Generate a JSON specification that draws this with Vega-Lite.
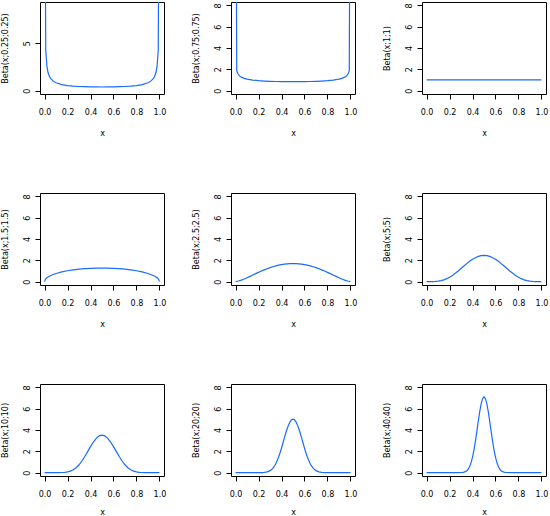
{
  "$schema": "https://vega.github.io/schema/vega-lite/v6.json",
  "background": "#ffffff",
  "padding": {"left": 0, "top": 1, "right": 0, "bottom": 0},
  "datasets": {
    "p1": [
      {"x": 0, "y": 30}, {"x": 0.01, "y": 4.296}, {"x": 0.02, "y": 2.574}, {"x": 0.03, "y": 1.913},
      {"x": 0.04, "y": 1.555}, {"x": 0.05, "y": 1.325}, {"x": 0.075, "y": 0.998}, {"x": 0.1, "y": 0.821},
      {"x": 0.15, "y": 0.632}, {"x": 0.2, "y": 0.533}, {"x": 0.25, "y": 0.473}, {"x": 0.3, "y": 0.435},
      {"x": 0.35, "y": 0.409}, {"x": 0.4, "y": 0.393}, {"x": 0.45, "y": 0.384}, {"x": 0.5, "y": 0.381},
      {"x": 0.55, "y": 0.384}, {"x": 0.6, "y": 0.393}, {"x": 0.65, "y": 0.409}, {"x": 0.7, "y": 0.435},
      {"x": 0.75, "y": 0.473}, {"x": 0.8, "y": 0.533}, {"x": 0.85, "y": 0.632}, {"x": 0.9, "y": 0.821},
      {"x": 0.925, "y": 0.998}, {"x": 0.95, "y": 1.325}, {"x": 0.96, "y": 1.555}, {"x": 0.97, "y": 1.913},
      {"x": 0.98, "y": 2.574}, {"x": 0.99, "y": 4.296}, {"x": 1, "y": 30}
    ],
    "p2": [
      {"x": 0, "y": 30}, {"x": 0.01, "y": 1.871}, {"x": 0.02, "y": 1.577}, {"x": 0.03, "y": 1.429},
      {"x": 0.04, "y": 1.333}, {"x": 0.05, "y": 1.264}, {"x": 0.075, "y": 1.15}, {"x": 0.1, "y": 1.078},
      {"x": 0.15, "y": 0.988}, {"x": 0.2, "y": 0.933}, {"x": 0.25, "y": 0.897}, {"x": 0.3, "y": 0.872},
      {"x": 0.35, "y": 0.855}, {"x": 0.4, "y": 0.843}, {"x": 0.45, "y": 0.837}, {"x": 0.5, "y": 0.835},
      {"x": 0.55, "y": 0.837}, {"x": 0.6, "y": 0.843}, {"x": 0.65, "y": 0.855}, {"x": 0.7, "y": 0.872},
      {"x": 0.75, "y": 0.897}, {"x": 0.8, "y": 0.933}, {"x": 0.85, "y": 0.988}, {"x": 0.9, "y": 1.078},
      {"x": 0.925, "y": 1.15}, {"x": 0.95, "y": 1.264}, {"x": 0.96, "y": 1.333}, {"x": 0.97, "y": 1.429},
      {"x": 0.98, "y": 1.577}, {"x": 0.99, "y": 1.871}, {"x": 1, "y": 30}
    ],
    "p3": [
      {"x": 0, "y": 1}, {"x": 1, "y": 1}
    ],
    "p4": [
      {"x": 0, "y": 0}, {"x": 0.005, "y": 0.18}, {"x": 0.01, "y": 0.253}, {"x": 0.02, "y": 0.357},
      {"x": 0.03, "y": 0.434}, {"x": 0.04, "y": 0.499}, {"x": 0.05, "y": 0.555}, {"x": 0.075, "y": 0.671},
      {"x": 0.1, "y": 0.764}, {"x": 0.15, "y": 0.909}, {"x": 0.2, "y": 1.019}, {"x": 0.25, "y": 1.103},
      {"x": 0.3, "y": 1.167}, {"x": 0.35, "y": 1.215}, {"x": 0.4, "y": 1.248}, {"x": 0.45, "y": 1.267},
      {"x": 0.5, "y": 1.273}, {"x": 0.55, "y": 1.267}, {"x": 0.6, "y": 1.248}, {"x": 0.65, "y": 1.215},
      {"x": 0.7, "y": 1.167}, {"x": 0.75, "y": 1.103}, {"x": 0.8, "y": 1.019}, {"x": 0.85, "y": 0.909},
      {"x": 0.9, "y": 0.764}, {"x": 0.925, "y": 0.671}, {"x": 0.95, "y": 0.555}, {"x": 0.96, "y": 0.499},
      {"x": 0.97, "y": 0.434}, {"x": 0.98, "y": 0.357}, {"x": 0.99, "y": 0.253}, {"x": 0.995, "y": 0.18},
      {"x": 1, "y": 0}
    ],
    "p5": [
      {"x": 0, "y": 0}, {"x": 0.025, "y": 0.052}, {"x": 0.05, "y": 0.141}, {"x": 0.075, "y": 0.248},
      {"x": 0.1, "y": 0.367}, {"x": 0.125, "y": 0.491}, {"x": 0.15, "y": 0.618}, {"x": 0.175, "y": 0.745},
      {"x": 0.2, "y": 0.869}, {"x": 0.225, "y": 0.989}, {"x": 0.25, "y": 1.103}, {"x": 0.275, "y": 1.209},
      {"x": 0.3, "y": 1.307}, {"x": 0.325, "y": 1.396}, {"x": 0.35, "y": 1.474}, {"x": 0.375, "y": 1.541},
      {"x": 0.4, "y": 1.597}, {"x": 0.425, "y": 1.641}, {"x": 0.45, "y": 1.672}, {"x": 0.475, "y": 1.691},
      {"x": 0.5, "y": 1.698}, {"x": 0.525, "y": 1.691}, {"x": 0.55, "y": 1.672}, {"x": 0.575, "y": 1.641},
      {"x": 0.6, "y": 1.597}, {"x": 0.625, "y": 1.541}, {"x": 0.65, "y": 1.474}, {"x": 0.675, "y": 1.396},
      {"x": 0.7, "y": 1.307}, {"x": 0.725, "y": 1.209}, {"x": 0.75, "y": 1.103}, {"x": 0.775, "y": 0.989},
      {"x": 0.8, "y": 0.869}, {"x": 0.825, "y": 0.745}, {"x": 0.85, "y": 0.618}, {"x": 0.875, "y": 0.491},
      {"x": 0.9, "y": 0.367}, {"x": 0.925, "y": 0.248}, {"x": 0.95, "y": 0.141}, {"x": 0.975, "y": 0.052},
      {"x": 1, "y": 0}
    ],
    "p6": [
      {"x": 0, "y": 0}, {"x": 0.025, "y": 0.0002}, {"x": 0.05, "y": 0.0032}, {"x": 0.075, "y": 0.0146},
      {"x": 0.1, "y": 0.0413}, {"x": 0.125, "y": 0.0902}, {"x": 0.15, "y": 0.1665}, {"x": 0.175, "y": 0.2737},
      {"x": 0.2, "y": 0.4129}, {"x": 0.225, "y": 0.5825}, {"x": 0.25, "y": 0.7787}, {"x": 0.275, "y": 0.9954},
      {"x": 0.3, "y": 1.2252}, {"x": 0.325, "y": 1.4591}, {"x": 0.35, "y": 1.6876}, {"x": 0.375, "y": 1.901},
      {"x": 0.4, "y": 2.0902}, {"x": 0.425, "y": 2.2468}, {"x": 0.45, "y": 2.364}, {"x": 0.475, "y": 2.4364},
      {"x": 0.5, "y": 2.4609}, {"x": 0.525, "y": 2.4364}, {"x": 0.55, "y": 2.364}, {"x": 0.575, "y": 2.2468},
      {"x": 0.6, "y": 2.0902}, {"x": 0.625, "y": 1.901}, {"x": 0.65, "y": 1.6876}, {"x": 0.675, "y": 1.4591},
      {"x": 0.7, "y": 1.2252}, {"x": 0.725, "y": 0.9954}, {"x": 0.75, "y": 0.7787}, {"x": 0.775, "y": 0.5825},
      {"x": 0.8, "y": 0.4129}, {"x": 0.825, "y": 0.2737}, {"x": 0.85, "y": 0.1665}, {"x": 0.875, "y": 0.0902},
      {"x": 0.9, "y": 0.0413}, {"x": 0.925, "y": 0.0146}, {"x": 0.95, "y": 0.0032}, {"x": 0.975, "y": 0.0002},
      {"x": 1, "y": 0}
    ],
    "p7": [
      {"x": 0, "y": 0}, {"x": 0.025, "y": 0}, {"x": 0.05, "y": 0}, {"x": 0.075, "y": 0.00003},
      {"x": 0.1, "y": 0.0004}, {"x": 0.125, "y": 0.0021}, {"x": 0.15, "y": 0.0082}, {"x": 0.175, "y": 0.0252},
      {"x": 0.2, "y": 0.0635}, {"x": 0.225, "y": 0.1377}, {"x": 0.25, "y": 0.2646}, {"x": 0.275, "y": 0.4598},
      {"x": 0.3, "y": 0.7337}, {"x": 0.325, "y": 1.087}, {"x": 0.35, "y": 1.508}, {"x": 0.375, "y": 1.9714},
      {"x": 0.4, "y": 2.4405}, {"x": 0.425, "y": 2.8713}, {"x": 0.45, "y": 3.2192}, {"x": 0.475, "y": 3.4454},
      {"x": 0.5, "y": 3.524}, {"x": 0.525, "y": 3.4454}, {"x": 0.55, "y": 3.2192}, {"x": 0.575, "y": 2.8713},
      {"x": 0.6, "y": 2.4405}, {"x": 0.625, "y": 1.9714}, {"x": 0.65, "y": 1.508}, {"x": 0.675, "y": 1.087},
      {"x": 0.7, "y": 0.7337}, {"x": 0.725, "y": 0.4598}, {"x": 0.75, "y": 0.2646}, {"x": 0.775, "y": 0.1377},
      {"x": 0.8, "y": 0.0635}, {"x": 0.825, "y": 0.0252}, {"x": 0.85, "y": 0.0082}, {"x": 0.875, "y": 0.0021},
      {"x": 0.9, "y": 0.0004}, {"x": 0.925, "y": 0.00003}, {"x": 0.95, "y": 0}, {"x": 0.975, "y": 0},
      {"x": 1, "y": 0}
    ],
    "p8": [
      {"x": 0, "y": 0}, {"x": 0.1, "y": 0}, {"x": 0.15, "y": 0.00001}, {"x": 0.2, "y": 0.001},
      {"x": 0.225, "y": 0.0053}, {"x": 0.25, "y": 0.0212}, {"x": 0.275, "y": 0.0681}, {"x": 0.3, "y": 0.1826},
      {"x": 0.3125, "y": 0.2817}, {"x": 0.325, "y": 0.4187}, {"x": 0.3375, "y": 0.6013}, {"x": 0.35, "y": 0.8357},
      {"x": 0.3625, "y": 1.1256}, {"x": 0.375, "y": 1.4713}, {"x": 0.3875, "y": 1.8688}, {"x": 0.4, "y": 2.3089},
      {"x": 0.4125, "y": 2.7771}, {"x": 0.425, "y": 3.2545}, {"x": 0.4375, "y": 3.718}, {"x": 0.45, "y": 4.1431},
      {"x": 0.4625, "y": 4.5051}, {"x": 0.475, "y": 4.7819}, {"x": 0.4875, "y": 4.9556}, {"x": 0.5, "y": 5.0148},
      {"x": 0.5125, "y": 4.9556}, {"x": 0.525, "y": 4.7819}, {"x": 0.5375, "y": 4.5051}, {"x": 0.55, "y": 4.1431},
      {"x": 0.5625, "y": 3.718}, {"x": 0.575, "y": 3.2545}, {"x": 0.5875, "y": 2.7771}, {"x": 0.6, "y": 2.3089},
      {"x": 0.6125, "y": 1.8688}, {"x": 0.625, "y": 1.4713}, {"x": 0.6375, "y": 1.1256}, {"x": 0.65, "y": 0.8357},
      {"x": 0.6625, "y": 0.6013}, {"x": 0.675, "y": 0.4187}, {"x": 0.6875, "y": 0.2817}, {"x": 0.7, "y": 0.1826},
      {"x": 0.725, "y": 0.0681}, {"x": 0.75, "y": 0.0212}, {"x": 0.775, "y": 0.0053}, {"x": 0.8, "y": 0.001},
      {"x": 0.85, "y": 0.00001}, {"x": 0.9, "y": 0}, {"x": 1, "y": 0}
    ],
    "p9": [
      {"x": 0, "y": 0}, {"x": 0.1, "y": 0}, {"x": 0.2, "y": 0}, {"x": 0.25, "y": 0.0001},
      {"x": 0.275, "y": 0.001}, {"x": 0.3, "y": 0.0079}, {"x": 0.3125, "y": 0.0193}, {"x": 0.325, "y": 0.0435},
      {"x": 0.3375, "y": 0.0915}, {"x": 0.35, "y": 0.1798}, {"x": 0.3625, "y": 0.3313}, {"x": 0.375, "y": 0.5741},
      {"x": 0.3875, "y": 0.938}, {"x": 0.4, "y": 1.4478}, {"x": 0.4125, "y": 2.115}, {"x": 0.425, "y": 2.9288},
      {"x": 0.4375, "y": 3.8493}, {"x": 0.45, "y": 4.8073}, {"x": 0.4625, "y": 5.7093}, {"x": 0.475, "y": 6.4525},
      {"x": 0.4875, "y": 6.9428}, {"x": 0.5, "y": 7.1142}, {"x": 0.5125, "y": 6.9428}, {"x": 0.525, "y": 6.4525},
      {"x": 0.5375, "y": 5.7093}, {"x": 0.55, "y": 4.8073}, {"x": 0.5625, "y": 3.8493}, {"x": 0.575, "y": 2.9288},
      {"x": 0.5875, "y": 2.115}, {"x": 0.6, "y": 1.4478}, {"x": 0.6125, "y": 0.938}, {"x": 0.625, "y": 0.5741},
      {"x": 0.6375, "y": 0.3313}, {"x": 0.65, "y": 0.1798}, {"x": 0.6625, "y": 0.0915}, {"x": 0.675, "y": 0.0435},
      {"x": 0.6875, "y": 0.0193}, {"x": 0.7, "y": 0.0079}, {"x": 0.725, "y": 0.001}, {"x": 0.75, "y": 0.0001},
      {"x": 0.8, "y": 0}, {"x": 0.9, "y": 0}, {"x": 1, "y": 0}
    ]
  },
  "columns": 3,
  "spacing": {"row": 99, "column": 67},
  "bounds": "flush",
  "concat": [
    {
      "data": {"name": "p1"},
      "width": 124, "height": 92,
      "mark": {"type": "line", "color": "#1a6bff", "strokeWidth": 1.2, "clip": true},
      "encoding": {
        "x": {"field": "x", "type": "quantitative", "scale": {"domain": [-0.04, 1.04], "nice": false, "zero": false}, "axis": {"title": "x"}},
        "y": {"field": "y", "type": "quantitative", "scale": {"domain": [-0.36, 9.36], "nice": false, "zero": false}, "axis": {"title": "Beta(x;0.25;0.25)"}}
      }
    },
    {
      "data": {"name": "p2"},
      "width": 124, "height": 92,
      "mark": {"type": "line", "color": "#1a6bff", "strokeWidth": 1.2, "clip": true},
      "encoding": {
        "x": {"field": "x", "type": "quantitative", "scale": {"domain": [-0.04, 1.04], "nice": false, "zero": false}, "axis": {"title": "x"}},
        "y": {"field": "y", "type": "quantitative", "scale": {"domain": [-0.32, 8.32], "nice": false, "zero": false}, "axis": {"title": "Beta(x;0.75;0.75)"}}
      }
    },
    {
      "data": {"name": "p3"},
      "width": 124, "height": 92,
      "mark": {"type": "line", "color": "#1a6bff", "strokeWidth": 1.2, "clip": true},
      "encoding": {
        "x": {"field": "x", "type": "quantitative", "scale": {"domain": [-0.04, 1.04], "nice": false, "zero": false}, "axis": {"title": "x"}},
        "y": {"field": "y", "type": "quantitative", "scale": {"domain": [-0.32, 8.32], "nice": false, "zero": false}, "axis": {"title": "Beta(x;1;1)"}}
      }
    },
    {
      "data": {"name": "p4"},
      "width": 124, "height": 92,
      "mark": {"type": "line", "color": "#1a6bff", "strokeWidth": 1.2, "clip": true},
      "encoding": {
        "x": {"field": "x", "type": "quantitative", "scale": {"domain": [-0.04, 1.04], "nice": false, "zero": false}, "axis": {"title": "x"}},
        "y": {"field": "y", "type": "quantitative", "scale": {"domain": [-0.32, 8.32], "nice": false, "zero": false}, "axis": {"title": "Beta(x;1.5;1.5)"}}
      }
    },
    {
      "data": {"name": "p5"},
      "width": 124, "height": 92,
      "mark": {"type": "line", "color": "#1a6bff", "strokeWidth": 1.2, "clip": true},
      "encoding": {
        "x": {"field": "x", "type": "quantitative", "scale": {"domain": [-0.04, 1.04], "nice": false, "zero": false}, "axis": {"title": "x"}},
        "y": {"field": "y", "type": "quantitative", "scale": {"domain": [-0.32, 8.32], "nice": false, "zero": false}, "axis": {"title": "Beta(x;2.5;2.5)"}}
      }
    },
    {
      "data": {"name": "p6"},
      "width": 124, "height": 92,
      "mark": {"type": "line", "color": "#1a6bff", "strokeWidth": 1.2, "clip": true},
      "encoding": {
        "x": {"field": "x", "type": "quantitative", "scale": {"domain": [-0.04, 1.04], "nice": false, "zero": false}, "axis": {"title": "x"}},
        "y": {"field": "y", "type": "quantitative", "scale": {"domain": [-0.32, 8.32], "nice": false, "zero": false}, "axis": {"title": "Beta(x;5;5)"}}
      }
    },
    {
      "data": {"name": "p7"},
      "width": 124, "height": 92,
      "mark": {"type": "line", "color": "#1a6bff", "strokeWidth": 1.2, "clip": true},
      "encoding": {
        "x": {"field": "x", "type": "quantitative", "scale": {"domain": [-0.04, 1.04], "nice": false, "zero": false}, "axis": {"title": "x", "titleY": 38}},
        "y": {"field": "y", "type": "quantitative", "scale": {"domain": [-0.32, 8.32], "nice": false, "zero": false}, "axis": {"title": "Beta(x;10;10)"}}
      }
    },
    {
      "data": {"name": "p8"},
      "width": 124, "height": 92,
      "mark": {"type": "line", "color": "#1a6bff", "strokeWidth": 1.2, "clip": true},
      "encoding": {
        "x": {"field": "x", "type": "quantitative", "scale": {"domain": [-0.04, 1.04], "nice": false, "zero": false}, "axis": {"title": "x", "titleY": 38}},
        "y": {"field": "y", "type": "quantitative", "scale": {"domain": [-0.32, 8.32], "nice": false, "zero": false}, "axis": {"title": "Beta(x;20;20)"}}
      }
    },
    {
      "data": {"name": "p9"},
      "width": 124, "height": 92,
      "mark": {"type": "line", "color": "#1a6bff", "strokeWidth": 1.2, "clip": true},
      "encoding": {
        "x": {"field": "x", "type": "quantitative", "scale": {"domain": [-0.04, 1.04], "nice": false, "zero": false}, "axis": {"title": "x", "titleY": 38}},
        "y": {"field": "y", "type": "quantitative", "scale": {"domain": [-0.32, 8.32], "nice": false, "zero": false}, "axis": {"title": "Beta(x;40;40)"}}
      }
    }
  ],
  "config": {
    "view": {"stroke": "#000000", "strokeWidth": 1},
    "font": "DejaVu Sans",
    "axis": {
      "grid": false,
      "domain": false,
      "tickColor": "#000000",
      "tickSize": 5,
      "tickWidth": 1,
      "labelFont": "DejaVu Sans",
      "labelFontSize": 8,
      "labelColor": "#000000",
      "labelFlush": false,
      "labelOverlap": false,
      "titleFont": "DejaVu Sans",
      "titleFontSize": 8,
      "titleFontWeight": "normal",
      "titleColor": "#000000"
    },
    "axisX": {
      "values": [0, 0.2, 0.4, 0.6, 0.8, 1],
      "format": ".1f",
      "labelAlign": "center",
      "labelBaseline": "alphabetic",
      "labelPadding": 15.5,
      "titleX": 62,
      "titleY": 41,
      "titleAlign": "center",
      "titleBaseline": "alphabetic",
      "titleAngle": 0
    },
    "axisY": {
      "values": [0, 2, 4, 6, 8],
      "format": "d",
      "labelAngle": -90,
      "labelAlign": "center",
      "labelBaseline": "alphabetic",
      "labelPadding": 6,
      "titleX": -33,
      "titleY": 46,
      "titleAlign": "center",
      "titleBaseline": "alphabetic",
      "titleAngle": -90
    }
  }
}
